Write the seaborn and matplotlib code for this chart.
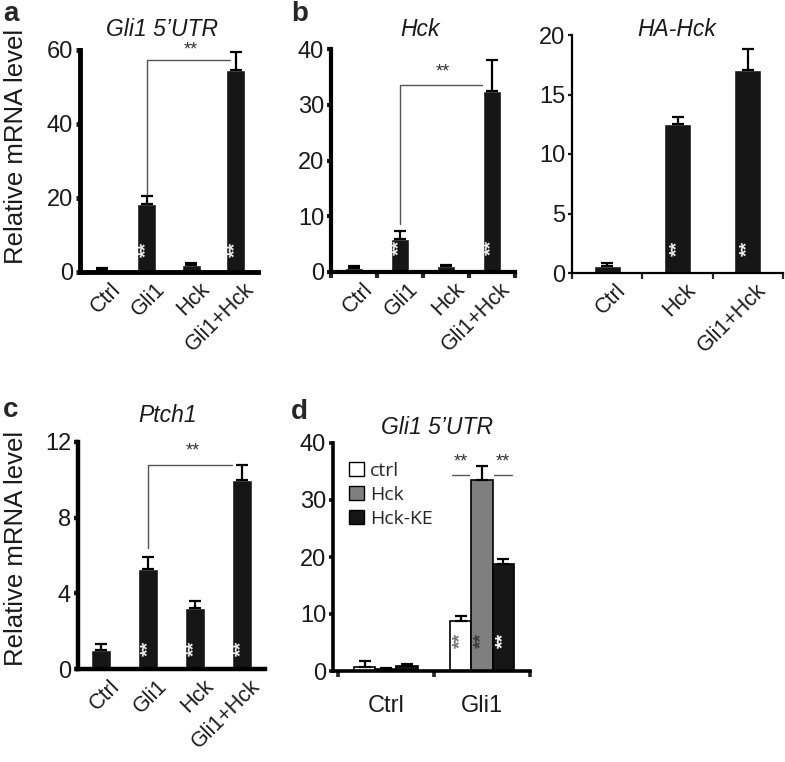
import numpy as np
import pandas as pd
import seaborn as sns
import matplotlib
matplotlib.use("Agg")
import matplotlib.pyplot as plt
import matplotlib.transforms as mtransforms
from matplotlib.patches import Patch

# a: Gli1 5'UTR
a_groups = ["Ctrl", "Gli1", "Hck", "Gli1+Hck"]
a_mean = [0.8, 18.5, 1.8, 54.5]
a_err = [0.3, 2.0, 0.5, 5.0]

# b: Hck
b_groups = ["Ctrl", "Gli1", "Hck", "Gli1+Hck"]
b_mean = [0.8, 6.0, 1.0, 32.5]
b_err = [0.3, 1.3, 0.3, 5.5]

# b: HA-Hck
ha_groups = ["Ctrl", "Hck", "Gli1+Hck"]
ha_mean = [0.6, 12.5, 17.1]
ha_err = [0.2, 0.6, 1.7]

# c: Ptch1
c_groups = ["Ctrl", "Gli1", "Hck", "Gli1+Hck"]
c_mean = [1.0, 5.3, 3.2, 10.0]
c_err = [0.3, 0.6, 0.4, 0.8]

# d: Gli1 5'UTR with kinase-dead mutant
d_groups = ["Ctrl", "Gli1"]
d_hue = ["ctrl", "Hck", "Hck-KE"]
d_ctrl = [0.7, 8.7]
d_hck = [0.35, 33.5]
d_hckke = [0.9, 18.8]
d_ctrl_err = [1.1, 1.0]
d_hck_err = [0.1, 2.5]
d_hckke_err = [0.25, 0.9]

W, H = 785, 762
sns.set_style("ticks")
plt.rcParams["font.family"] = ["Liberation Sans", "DejaVu Sans"]

fig = plt.figure(figsize=(W / 100, H / 100), dpi=100)


def px_axes(left, top, right, bottom):
    return fig.add_axes([left / W, 1 - bottom / H, (right - left) / W, (bottom - top) / H])


def px_text(x, y, s, **kw):
    fig.text(x / W, 1 - y / H, s, **kw)


def style_axes(ax, ymax, yticks, lw, boundary_ticks=False, n=4, xlo=-0.5, rot=45):
    ax.set_ylim(0, ymax)
    ax.set_yticks(yticks)
    ax.set_xlim(xlo, n - 0.5)
    sns.despine(ax=ax)
    for s in ["left", "bottom"]:
        ax.spines[s].set_linewidth(lw)
        ax.spines[s].set_color("black")
    ax.tick_params(axis="y", length=3, width=lw, labelsize=17, pad=2, colors="#1a1a1a")
    ax.tick_params(axis="x", length=0, labelsize=15.5, pad=5, colors="#1a1a1a")
    ax.set_xlabel("")
    ax.set_ylabel("")
    if rot:
        shift = mtransforms.ScaledTranslation(8 / 100, 0, fig.dpi_scale_trans)
        for t in ax.get_xticklabels():
            t.set_rotation(45)
            t.set_ha("right")
            t.set_rotation_mode("anchor")
            t.set_transform(t.get_transform() + shift)
    if boundary_ticks:
        ax.set_xticks(np.arange(-0.5, n, 1.0), minor=True)
        ax.tick_params(axis="x", which="minor", length=4, width=lw, direction="out")


def add_err(ax, means, errs, width_lw=1.6):
    xs = [p.get_x() + p.get_width() / 2 for p in ax.patches[:len(means)]]
    ax.errorbar(xs, means, yerr=[np.zeros(len(errs)), errs], fmt="none",
                ecolor="black", elinewidth=width_lw, capsize=4, capthick=width_lw, zorder=1)


def inner_stars(ax, xs, y, color="#eeeeee"):
    for x in xs:
        ax.text(x, y, "**", rotation=90, ha="center", va="center",
                color=color, fontsize=14, fontweight="bold")


def bracket(ax, x0, y0, x1, ytop, ystar):
    ax.plot([x0, x0, x1], [y0, ytop, ytop], color="#555555", lw=1.0, clip_on=False)
    ax.text((x0 + x1) / 2 + 0.05, ystar, "**", ha="center", va="center",
            color="#333333", fontsize=13)


bar_color = "#161616"

# panel a
ax = px_axes(80, 50, 258, 272)
sns.barplot(x=a_groups, y=a_mean, color=bar_color, width=0.42, errorbar=None,
            saturation=1, ax=ax)
add_err(ax, a_mean, a_err)
style_axes(ax, 60, [0, 20, 40, 60], 3.5)
inner_stars(ax, [1, 3], 6.2)
bracket(ax, 1, 21, 2.88, 57.3, 60)

# panel b (Hck)
ax = px_axes(331, 49, 515, 272)
sns.barplot(x=b_groups, y=b_mean, color=bar_color, width=0.4, errorbar=None,
            saturation=1, ax=ax)
add_err(ax, b_mean, b_err)
style_axes(ax, 40, [0, 10, 20, 30, 40], 3.0, boundary_ticks=True)
inner_stars(ax, [1, 3], 4.4)
bracket(ax, 1, 8.6, 2.78, 33.5, 35.8)

# panel b (HA-Hck)
ax = px_axes(572, 35, 783, 273)
sns.barplot(x=ha_groups, y=ha_mean, color=bar_color, width=0.38, errorbar=None,
            saturation=1, ax=ax)
add_err(ax, ha_mean, ha_err)
style_axes(ax, 20, [0, 5, 10, 15, 20], 1.6, boundary_ticks=True, n=3, xlo=-0.43)
inner_stars(ax, [1, 2], 2.1)

# panel c
ax = px_axes(78, 442, 265, 669)
sns.barplot(x=c_groups, y=c_mean, color=bar_color, width=0.43, errorbar=None,
            saturation=1, ax=ax)
add_err(ax, c_mean, c_err)
style_axes(ax, 12, [0, 4, 8, 12], 3.2)
inner_stars(ax, [1, 2, 3], 1.1)
bracket(ax, 1, 6.4, 2.8, 10.8, 11.5)

# panel d
d_df = pd.DataFrame({
    "group": d_groups * 3,
    "cond": [d_hue[0]] * 2 + [d_hue[1]] * 2 + [d_hue[2]] * 2,
    "value": d_ctrl + d_hck + d_hckke,
})
d_err = [d_ctrl_err, d_hck_err, d_hckke_err]
d_means = [d_ctrl, d_hck, d_hckke]
d_colors = ["white", "#7f7f7f", bar_color]
ax = px_axes(333, 443, 530, 671)
sns.barplot(data=d_df, x="group", y="value", hue="cond", hue_order=d_hue,
            palette=d_colors, width=0.66, errorbar=None, saturation=1,
            edgecolor="black", linewidth=1.2, legend=False, ax=ax)
bar_conts = list(ax.containers)
for cont, m, e in zip(bar_conts, d_means, d_err):
    xs = [p.get_x() + p.get_width() / 2 for p in cont.patches]
    ax.errorbar(xs, m, yerr=[np.zeros(len(e)), e], fmt="none", ecolor="black",
                elinewidth=1.6, capsize=4, capthick=1.6, zorder=1)
style_axes(ax, 40, [0, 10, 20, 30, 40], 2.6, boundary_ticks=True, n=2, xlo=-0.55, rot=0)
ax.tick_params(axis="x", labelsize=17, pad=17)
xs_gli = [c.patches[1].get_x() + c.patches[1].get_width() / 2 for c in bar_conts]
for x, col in zip(xs_gli, ["#777777", "#3a3a3a", "white"]):
    ax.text(x, 5.4, "**", rotation=90, ha="center", va="center", color=col,
            fontsize=14, fontweight="bold")
for xa, xb in [(xs_gli[0] - 0.11, xs_gli[1] - 0.11), (xs_gli[1] + 0.11, xs_gli[2] + 0.11)]:
    ax.plot([xa + 0.02, xb - 0.02], [34.4, 34.4], color="#555555", lw=1.0)
    ax.text((xa + xb) / 2, 36.6, "**", ha="center", va="center", color="#333333", fontsize=13)
handles = [Patch(facecolor=c, edgecolor="black", linewidth=1.0) for c in d_colors]
ax.legend(handles, d_hue, loc="upper left", bbox_to_anchor=(0.02, 0.97), frameon=False,
          handlelength=0.8, handleheight=0.8, handletextpad=0.3, labelspacing=0.3,
          prop={"family": "Open Sans", "size": 14}, borderaxespad=0.2)

# y-axis labels
px_text(16, 146, "Relative mRNA level", rotation=90, ha="center", va="center",
        fontsize=18.5, color="#1a1a1a")
px_text(16, 548, "Relative mRNA level", rotation=90, ha="center", va="center",
        fontsize=18.5, color="#1a1a1a")

# titles
title_kw = dict(ha="center", va="center", fontsize=16.5, style="italic", color="#1a1a1a")
px_text(162, 30, "Gli1 5\u2019UTR", **title_kw)
px_text(420, 30, "Hck", **title_kw)
px_text(677, 30, "HA-Hck", **title_kw)
px_text(168, 416, "Ptch1", **title_kw)
px_text(437, 427, "Gli1 5\u2019UTR", **title_kw)

# panel letters
letter_kw = dict(ha="left", va="center", fontsize=20, fontweight="bold")
px_text(3, 14, "a", **letter_kw)
px_text(291, 14, "b", **letter_kw)
px_text(3, 410, "c", **letter_kw)
px_text(291, 412, "d", **letter_kw)

fig.savefig("out.png", dpi=100, facecolor="white")
